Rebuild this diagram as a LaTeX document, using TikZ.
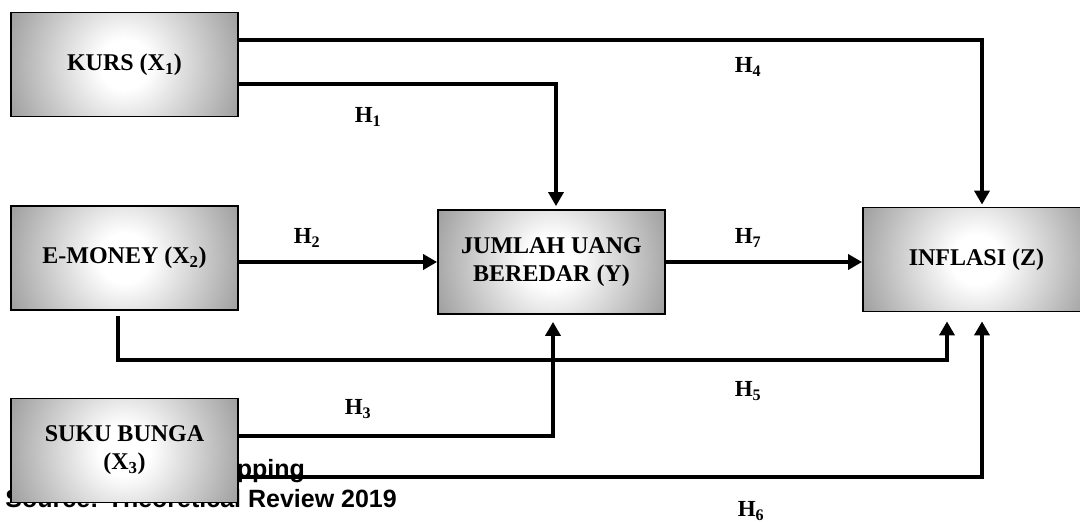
\documentclass[tikz,border=0pt]{standalone}
\usepackage{fontspec}
\setmainfont{Liberation Serif}
\newfontfamily\capfont{Liberation Sans}
\usetikzlibrary{arrows.meta,calc}
\pgfdeclareradialshading{boxshade}{\pgfpoint{0bp}{0bp}}{color(0bp)=(white); color(5bp)=(white); color(25bp)=(black!38); color(50bp)=(black!38)}
\begin{document}
\begin{tikzpicture}[x=1pt,y=-1pt,
  box/.style={draw=black, line width=1.8pt, minimum width=227pt, minimum height=104pt,
    inner sep=0pt, align=center, font=\fontsize{24}{28}\selectfont\bfseries,
    path picture={\shade[shading=boxshade] (path picture bounding box.center) circle (125pt);}},
  arr/.style={line width=3.6pt, -{Triangle[width=15pt,length=14pt]}},
  hlab/.style={font=\fontsize{23}{26}\selectfont\bfseries, inner sep=0pt},
  capstyle/.style={font=\capfont\fontsize{25}{30}\selectfont\bfseries, inner sep=0pt}]
\useasboundingbox (0,0) rectangle (1080,522);
% caption (partly hidden behind the box)
\node[capstyle, anchor=base east] (cap1) at (305,477) {Mapping};
\node[capstyle, anchor=base east] (cap2) at (397,507) {Source: Theoretical Review 2019};
% boxes
\node[box] (kurs) at (124.5,64.5) {KURS (X\textsubscript{1})};
\node[box] (emoney) at (124.5,258) {E-MONEY (X\textsubscript{2})};
\node[box] (suku) at (124.5,450.5) {SUKU BUNGA\\(X\textsubscript{3})};
\node[box] (jumlah) at (551.5,262) {JUMLAH UANG\\BEREDAR (Y)};
\node[box] (inflasi) at (976.5,259.5) {INFLASI (Z)};
% routing coordinates
\coordinate (xA) at (982,0);
\coordinate (xB) at (556,0);
\coordinate (xB2) at (553,0);
\coordinate (xC) at (947,0);
\coordinate (xE) at (118,0);
\coordinate (yA) at (0,40);
\coordinate (yB) at (0,84);
\coordinate (yE) at (0,360);
\coordinate (yS1) at (0,436);
\coordinate (yS2) at (0,477);
% connectors
\draw[arr] (kurs.east |- yA) -| ($(inflasi.north -| xA)+(0,-2)$);
\draw[arr] (kurs.east |- yB) -| ($(jumlah.north -| xB)+(0,-3)$);
\draw[arr] (emoney.east |- jumlah.west) -- (jumlah.west);
\draw[arr] (jumlah.east) -- (jumlah.east -| inflasi.west);
\draw[arr] ($(emoney.south -| xE)+(0,5)$) -- (xE |- yE) -| ($(inflasi.south -| xC)+(0,9)$);
\draw[arr] (suku.east |- yS1) -| ($(jumlah.south -| xB2)+(0,7)$);
\draw[arr] (suku.east |- yS2) -| ($(inflasi.south -| xA)+(0,9)$);
% labels
\node[hlab] (h1) at (368,117) {H\textsubscript{1}};
\node[hlab] (h2) at (307,238) {H\textsubscript{2}};
\node[hlab] (h3) at (358,409) {H\textsubscript{3}};
\node[hlab] (h4) at (748,67) {H\textsubscript{4}};
\node[hlab] (h5) at (748,391) {H\textsubscript{5}};
\node[hlab] (h6) at (751,511) {H\textsubscript{6}};
\node[hlab] (h7) at (748,238) {H\textsubscript{7}};
\end{tikzpicture}
\end{document}
